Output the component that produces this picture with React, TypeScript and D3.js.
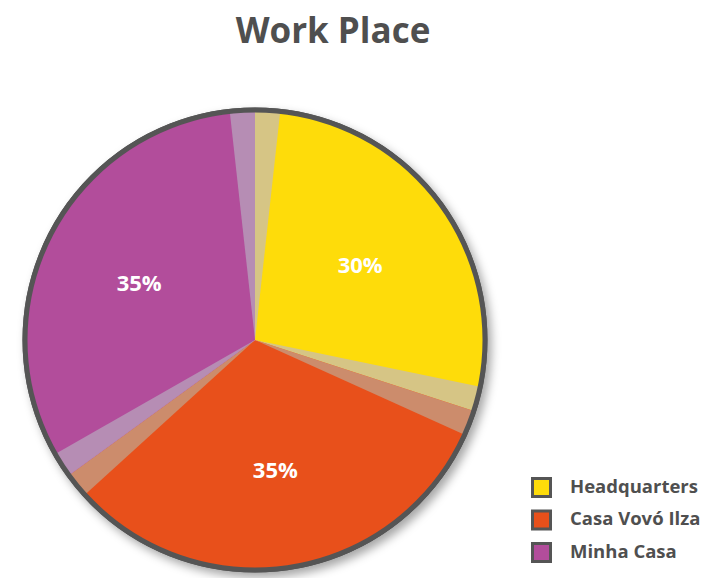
import React, { useMemo } from "react";
import * as d3 from "d3";

const categories = ["Headquarters", "Casa Vovó Ilza", "Minha Casa"];
const values = [30, 35, 35];
const colors = ["#FEDC0A", "#E8501B", "#B24D9B"];
const paleColors = ["#D6C585", "#CC8C6C", "#B68DB4"];

function App() {
  const width = 709;
  const height = 578;
  const cx = 255;
  const cy = 340;
  const radius = 230;
  const paleWidth = 0.11; // radians of lighter band at each slice edge

  const arcs = useMemo(() => {
    const pie = d3.pie<number>().sort(null).value((d) => d);
    return pie(values);
  }, []);

  const arcGen = d3.arc<any>().innerRadius(0).outerRadius(radius);
  const labelArc = d3.arc<any>().innerRadius(130).outerRadius(130);

  const total = d3.sum(values);

  return (
    <svg
      width={width}
      height={height}
      style={{ position: "absolute", left: 0, top: 0, background: "#fff" }}
      fontFamily="'Open Sans', sans-serif"
    >
      <defs>
        <filter id="shadow" x="-20%" y="-20%" width="140%" height="140%">
          <feDropShadow dx="4" dy="5" stdDeviation="5" floodColor="#000" floodOpacity="0.35" />
        </filter>
      </defs>
      <text
        x={333}
        y={43}
        textAnchor="middle"
        fontSize={35}
        fontWeight="bold"
        fill="#4f4f4f"
      >
        Work Place
      </text>
      <g transform={`translate(${cx},${cy})`}>
        <circle r={radius} fill="#fff" stroke="#555" strokeWidth={5} filter="url(#shadow)" />
        {arcs.map((a, i) => (
          <g key={i}>
            <path d={arcGen(a) as string} fill={colors[i]} />
            <path
              d={arcGen({ startAngle: a.startAngle, endAngle: a.startAngle + paleWidth }) as string}
              fill={paleColors[i]}
            />
            <path
              d={arcGen({ startAngle: a.endAngle - paleWidth, endAngle: a.endAngle }) as string}
              fill={paleColors[i]}
            />
          </g>
        ))}
        <circle r={radius} fill="none" stroke="#555" strokeWidth={5} />
        {arcs.map((a, i) => {
          const [x, y] = labelArc.centroid(a);
          return (
            <text
              key={i}
              x={x}
              y={y + 4}
              textAnchor="middle"
              dominantBaseline="middle"
              fontSize={22}
              fontWeight="bold"
              fill="#fff"
            >
              {`${Math.round((values[i] / total) * 100)}%`}
            </text>
          );
        })}
      </g>
      <g transform="translate(531,477)">
        {categories.map((c, i) => (
          <g key={c} transform={`translate(0,${i * 32.5})`}>
            <rect x={1.5} y={1.5} width={18} height={18} fill={colors[i]} stroke="#555" strokeWidth={3} />
            <text x={39} y={11} dominantBaseline="middle" fontSize={18.5} fontWeight="bold" fill="#4f4f4f">
              {c}
            </text>
          </g>
        ))}
      </g>
    </svg>
  );
}

export default App;
